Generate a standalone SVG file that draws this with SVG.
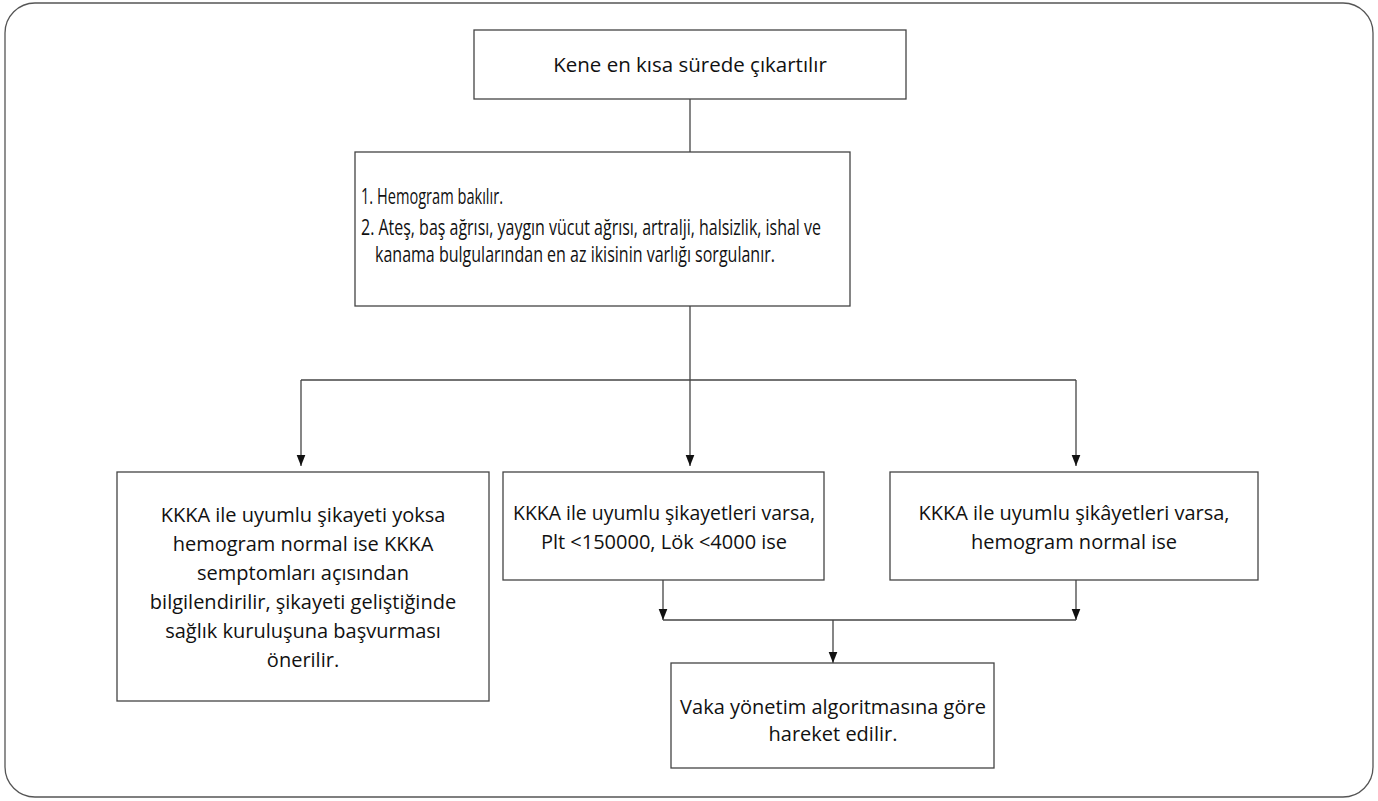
<svg xmlns="http://www.w3.org/2000/svg" width="1378" height="801" viewBox="0 0 1378 801">
<defs>
<marker id="arr" markerWidth="11" markerHeight="14" refX="14" refY="5.5" orient="auto" markerUnits="userSpaceOnUse" viewBox="0 0 14 11">
<path d="M0,0 L14,5.5 L0,11 Z" fill="#111"/>
</marker>
<style>
.box{fill:#fff;stroke:#444;stroke-width:1.3}
.ln{fill:none;stroke:#444;stroke-width:1.3}
text{font-family:"Open Sans","Liberation Sans",sans-serif;font-size:20px;fill:#111}
.c{text-anchor:middle}
.n{font-size:21px}
</style>
</defs>
<rect x="5" y="3" width="1368" height="794" rx="30" ry="30" fill="#fff" stroke="#555" stroke-width="1.3"/>
<g id="connectors">
<line class="ln" x1="690" y1="99" x2="690" y2="152"/>
<line class="ln" x1="690" y1="306" x2="690" y2="380"/>
<line class="ln" x1="301" y1="380" x2="1076" y2="380"/>
<line class="ln" x1="301" y1="380" x2="301" y2="466" marker-end="url(#arr)"/>
<line class="ln" x1="690" y1="380" x2="690" y2="466" marker-end="url(#arr)"/>
<line class="ln" x1="1076" y1="380" x2="1076" y2="466" marker-end="url(#arr)"/>
<line class="ln" x1="663" y1="580" x2="663" y2="620" marker-end="url(#arr)"/>
<line class="ln" x1="1076" y1="580" x2="1076" y2="620" marker-end="url(#arr)"/>
<line class="ln" x1="663" y1="620" x2="1076" y2="620"/>
<line class="ln" x1="833" y1="620" x2="833" y2="663" marker-end="url(#arr)"/>
</g>
<g id="n1">
<rect class="box" x="474" y="30" width="432" height="69"/>
<text class="c" x="690" y="72" style="font-size:20.5px">Kene en kısa sürede çıkartılır</text>
</g>
<g id="n2">
<rect class="box" x="355" y="152" width="495" height="154"/>
<text class="n" x="361" y="204" textLength="142" lengthAdjust="spacingAndGlyphs">1. Hemogram bakılır.</text>
<text class="n" x="361" y="235" textLength="460" lengthAdjust="spacingAndGlyphs">2. Ateş, baş ağrısı, yaygın vücut ağrısı, artralji, halsizlik, ishal ve</text>
<text class="n" x="375" y="262" textLength="400" lengthAdjust="spacingAndGlyphs">kanama bulgularından en az ikisinin varlığı sorgulanır.</text>
</g>
<g id="n3">
<rect class="box" x="117" y="472" width="372" height="229"/>
<text class="c" x="303" y="522">KKKA ile uyumlu şikayeti yoksa</text>
<text class="c" x="303" y="551">hemogram normal ise KKKA</text>
<text class="c" x="303" y="580">semptomları açısından</text>
<text class="c" x="303" y="609">bilgilendirilir, şikayeti geliştiğinde</text>
<text class="c" x="303" y="638">sağlık kuruluşuna başvurması</text>
<text class="c" x="303" y="667">önerilir.</text>
</g>
<g id="n4">
<rect class="box" x="503" y="472" width="321" height="108"/>
<text class="c" x="664" y="520" textLength="302" lengthAdjust="spacingAndGlyphs">KKKA ile uyumlu şikayetleri varsa,</text>
<text class="c" x="664" y="549">Plt &lt;150000, Lök &lt;4000 ise</text>
</g>
<g id="n5">
<rect class="box" x="890" y="472" width="368" height="108"/>
<text class="c" x="1074" y="520">KKKA ile uyumlu şikâyetleri varsa,</text>
<text class="c" x="1074" y="549">hemogram normal ise</text>
</g>
<g id="n6">
<rect class="box" x="671" y="663" width="323" height="105"/>
<text class="c" x="833" y="714">Vaka yönetim algoritmasına göre</text>
<text class="c" x="833" y="741">hareket edilir.</text>
</g>
</svg>
